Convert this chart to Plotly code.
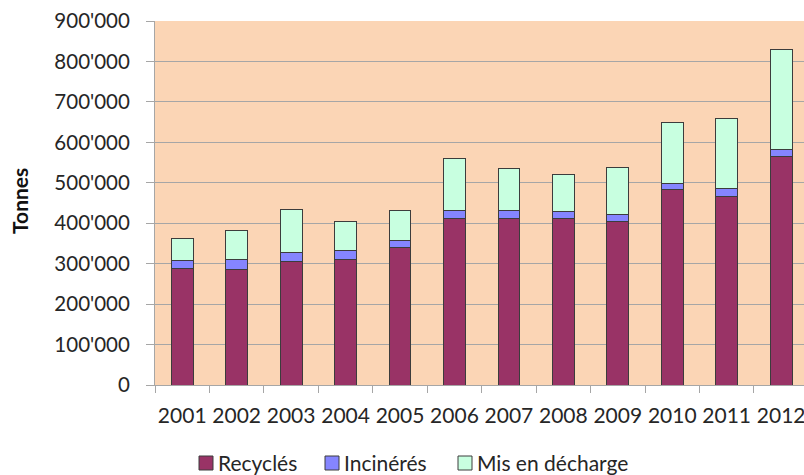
import plotly.graph_objects as go

# Waste tonnage by treatment route, 2001-2012
years = ["2001", "2002", "2003", "2004", "2005", "2006",
         "2007", "2008", "2009", "2010", "2011", "2012"]
recycles = [288000, 285000, 305000, 310000, 340000, 411000,
            411000, 411000, 404000, 484000, 465000, 565000]
incineres = [20000, 25000, 23000, 22000, 17000, 21000,
             21000, 18000, 17000, 15000, 21000, 17000]
decharge = [55000, 72000, 106000, 72000, 75000, 129000,
            103000, 92000, 117000, 149000, 174000, 247000]

series_names = ["Recyclés", "Incinérés", "Mis en décharge"]
series_values = [recycles, incineres, decharge]
series_colors = ["#993366", "#8585FF", "#C8FFE0"]

tick_vals = [0, 100000, 200000, 300000, 400000, 500000,
             600000, 700000, 800000, 900000]

font_family = "Lato, 'Open Sans', sans-serif"
text_color = "#262626"
edge_color = "#3c3c3c"

W, H = 804, 475
L, R, T, B = 155, 0, 21, 90
plot_w = W - L - R
plot_h = H - T - B


def px_x(px):
    """Pixel column -> paper x."""
    return (px - L) / plot_w


def px_y(py):
    """Pixel row -> paper y."""
    return (H - B - py) / plot_h


fig = go.Figure()
for name, vals, color in zip(series_names, series_values, series_colors):
    fig.add_trace(go.Bar(
        x=years, y=vals, name=name,
        marker=dict(color=color, line=dict(color=edge_color, width=1)),
        width=0.4,
    ))

# Legend row below the axis: swatch + label for each series
legend_swatch_x = [199, 325, 458]
legend_row_y = 463
sw = 14
shapes = []
annotations = []
for name, color, sx in zip(series_names, series_colors, legend_swatch_x):
    shapes.append(dict(
        type="rect", xref="paper", yref="paper",
        x0=px_x(sx), x1=px_x(sx + sw),
        y0=px_y(legend_row_y + sw / 2), y1=px_y(legend_row_y - sw / 2),
        fillcolor=color, line=dict(color=edge_color, width=1),
    ))
    annotations.append(dict(
        text=name, xref="paper", yref="paper",
        x=px_x(sx + sw + 3), y=px_y(legend_row_y),
        xanchor="left", yanchor="middle", showarrow=False,
        font=dict(size=21, color=text_color),
    ))

annotations.append(dict(
    text="<b>Tonnes</b>", xref="paper", yref="paper",
    x=px_x(19), y=px_y(201), textangle=-90,
    xanchor="center", yanchor="middle", showarrow=False,
    font=dict(size=21, color="#111111"),
))

fig.update_layout(
    barmode="stack",
    width=W, height=H,
    margin=dict(l=L, r=R, t=T, b=B),
    paper_bgcolor="white",
    plot_bgcolor="#FBD5B5",
    separators=".'",
    font=dict(family=font_family, size=20.5, color=text_color),
    showlegend=False,
    shapes=shapes,
    annotations=annotations,
)

fig.update_xaxes(
    type="category",
    range=[-0.5, 11.42],
    showgrid=False, zeroline=False,
    showline=True, linecolor="#A6A6A6", linewidth=1,
    ticks="outside", ticklen=7, tickcolor="#A6A6A6",
    tickson="boundaries",
    tickangle=0,
    ticklabelstandoff=12,
    tickfont=dict(size=21),
)

fig.update_yaxes(
    range=[0, 900000],
    tickvals=tick_vals, tickformat=",d",
    showgrid=True, gridcolor="#A6A6A6", gridwidth=1,
    zeroline=False,
    showline=True, linecolor="#A6A6A6", linewidth=1,
    ticks="outside", ticklen=8, tickcolor="#A6A6A6",
    ticklabelstandoff=12,
    tickfont=dict(size=20.5),
)

fig.write_html("out.html")
